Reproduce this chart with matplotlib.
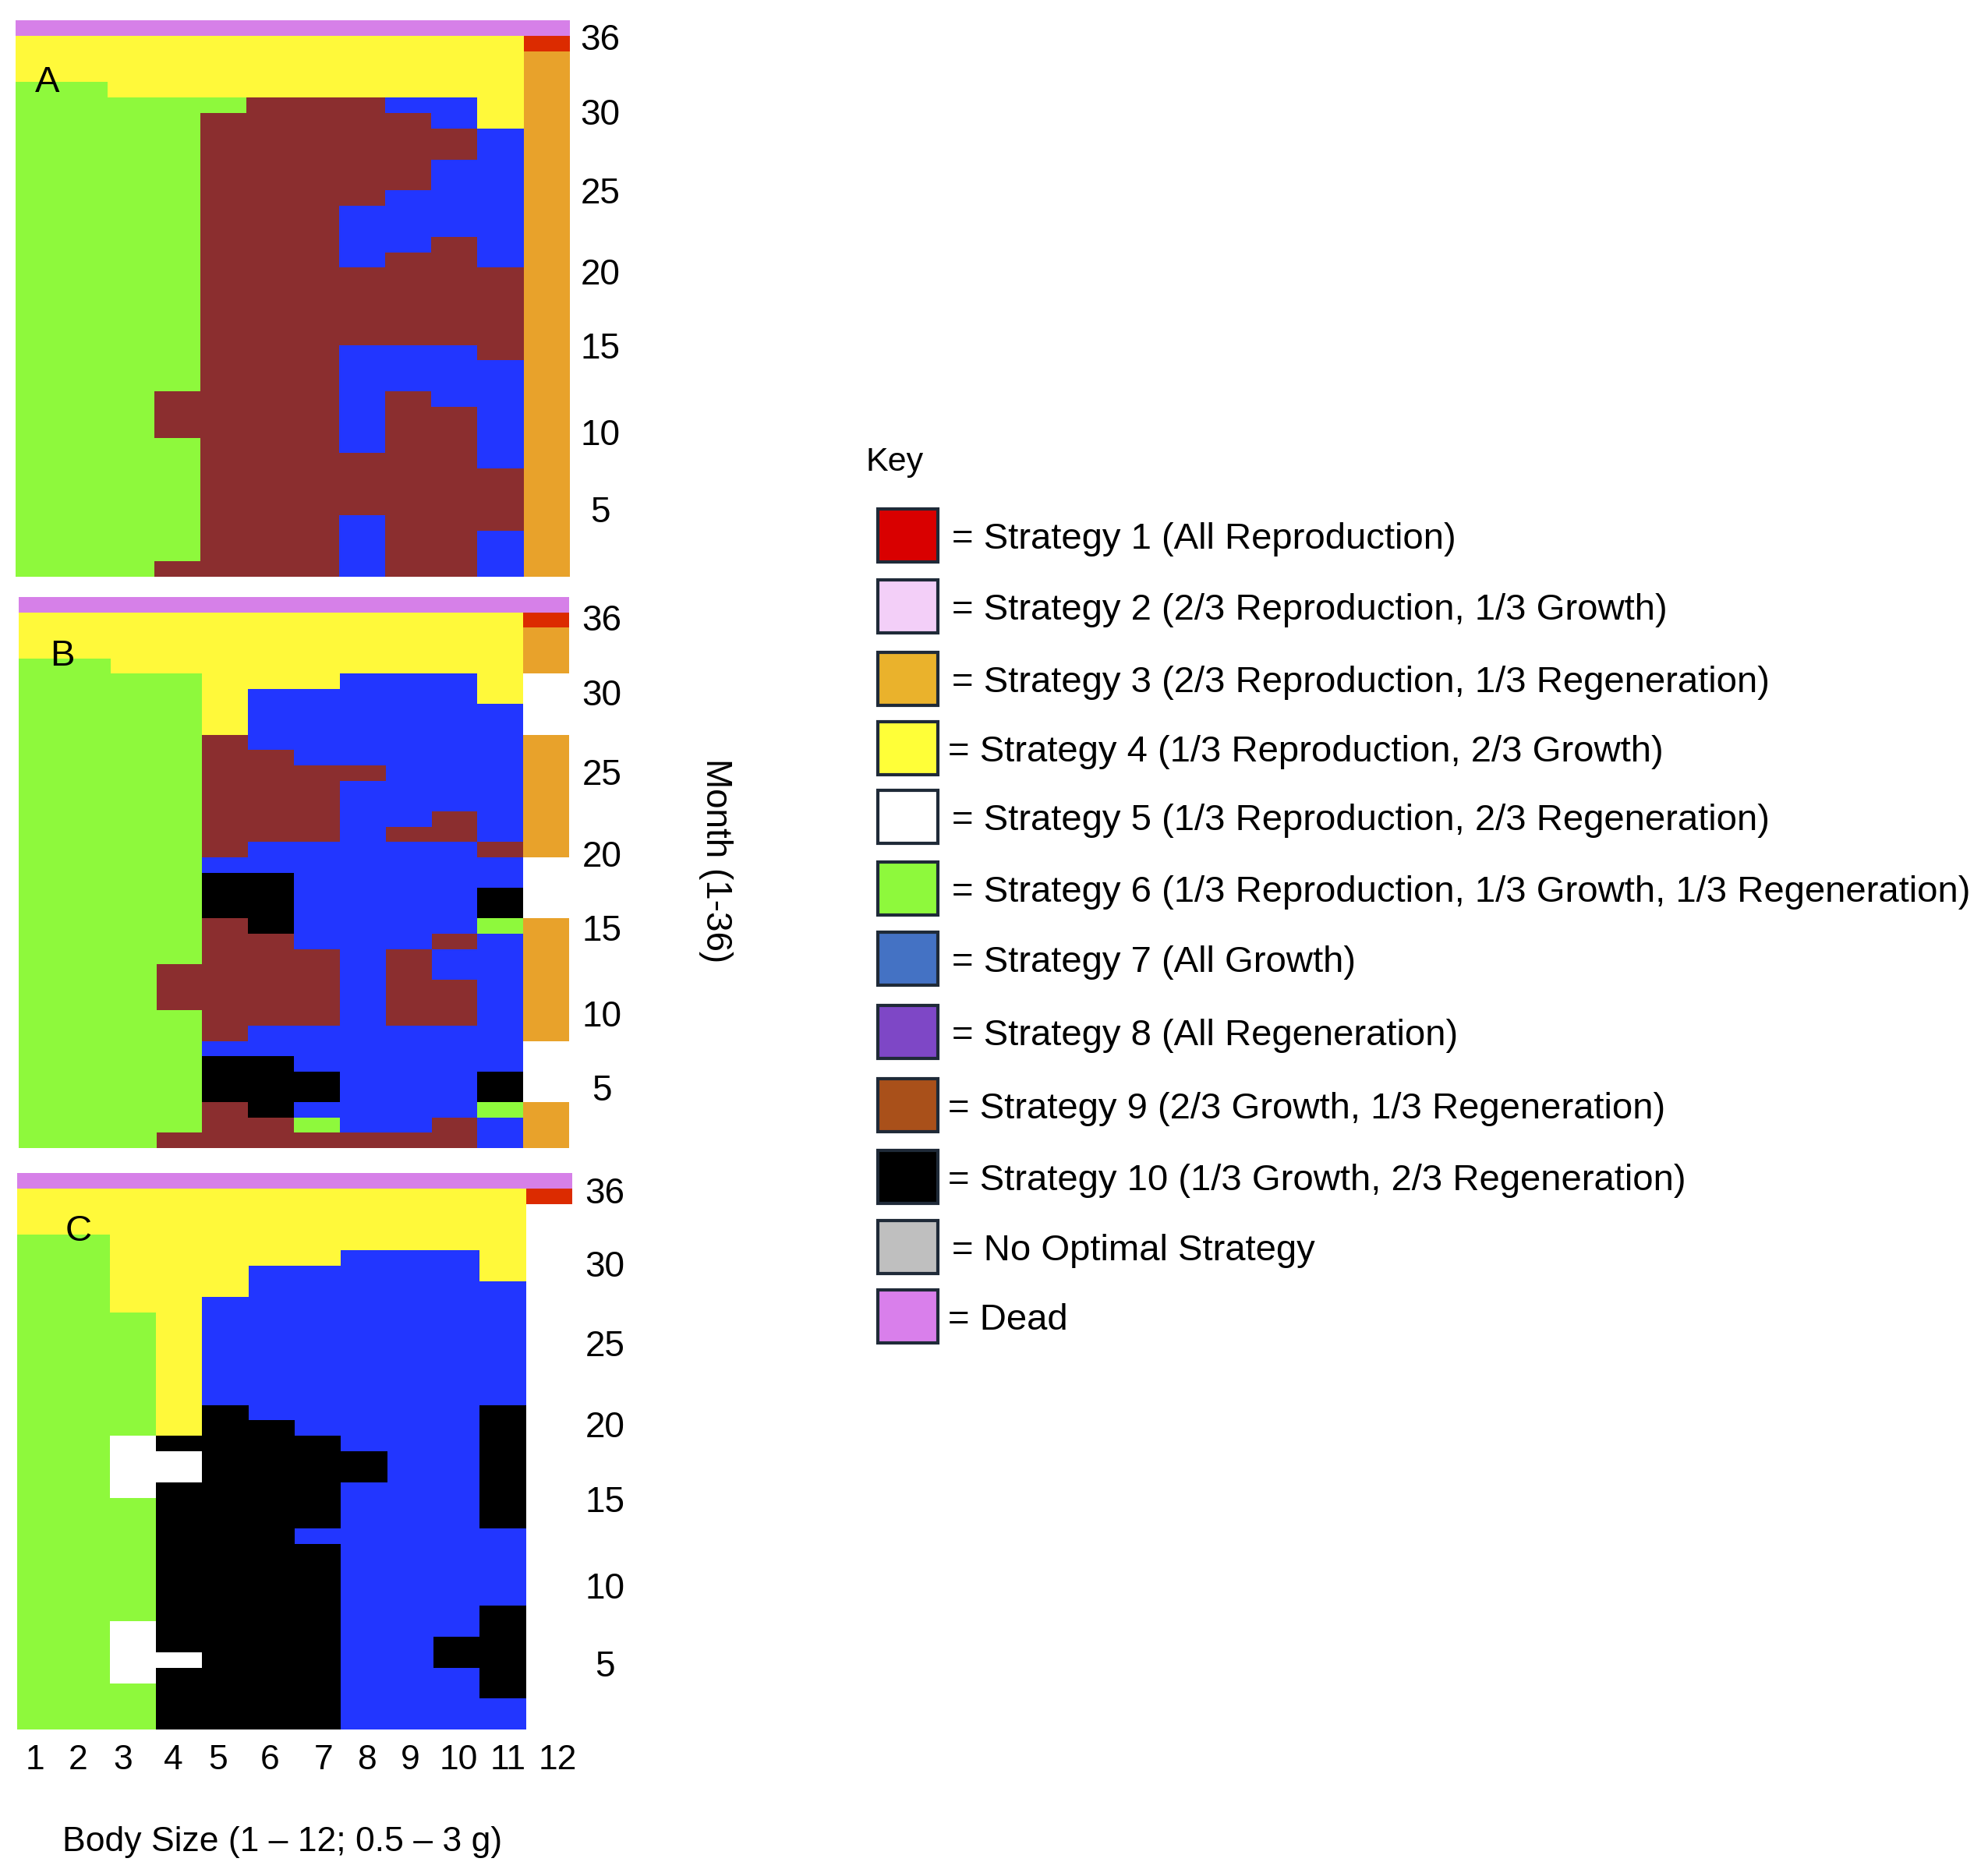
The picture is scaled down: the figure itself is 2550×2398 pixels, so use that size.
import numpy as np
import matplotlib
matplotlib.use("Agg")
import matplotlib.pyplot as plt
from matplotlib.colors import ListedColormap, BoundaryNorm
from matplotlib.patches import Rectangle

# ---------------- data ----------------
# strategy codes per cell: R=1, O=3, Y=4, W=5, G=6, B=7, N=9, K=10, P=12 (Dead)
code_to_strategy = {'R': 1, 'O': 3, 'Y': 4, 'W': 5, 'G': 6, 'B': 7, 'N': 9, 'K': 10, 'P': 12}

# rows listed from month 36 (top) down to month 1; columns = body size 1..12
panel_A = [
    "PPPPPPPPPPPP", "YYYYYYYYYYYR", "YYYYYYYYYYYO", "YYYYYYYYYYYO",
    "GGYYYYYYYYYO", "GGGGGNNNBBYO", "GGGGNNNNNBYO", "GGGGNNNNNNBO",
    "GGGGNNNNNNBO", "GGGGNNNNNBBO", "GGGGNNNNNBBO", "GGGGNNNNBBBO",
    "GGGGNNNBBBBO", "GGGGNNNBBBBO", "GGGGNNNBBNBO", "GGGGNNNBNNBO",
    "GGGGNNNNNNNO", "GGGGNNNNNNNO", "GGGGNNNNNNNO", "GGGGNNNNNNNO",
    "GGGGNNNNNNNO", "GGGGNNNBBBNO", "GGGGNNNBBBBO", "GGGGNNNBBBBO",
    "GGGNNNNBNBBO", "GGGNNNNBNNBO", "GGGNNNNBNNBO", "GGGGNNNBNNBO",
    "GGGGNNNNNNBO", "GGGGNNNNNNNO", "GGGGNNNNNNNO", "GGGGNNNNNNNO",
    "GGGGNNNBNNNO", "GGGGNNNBNNBO", "GGGGNNNBNNBO", "GGGNNNNBNNBO",
]
panel_B = [
    "PPPPPPPPPPPP", "YYYYYYYYYYYR", "YYYYYYYYYYYO", "YYYYYYYYYYYO",
    "GGYYYYYYYYYO", "GGGGYYYBBBYW", "GGGGYBBBBBYW", "GGGGYBBBBBBW",
    "GGGGYBBBBBBW", "GGGGNBBBBBBO", "GGGGNNBBBBBO", "GGGGNNNNBBBO",
    "GGGGNNNBBBBO", "GGGGNNNBBBBO", "GGGGNNNBBNBO", "GGGGNNNBNNBO",
    "GGGGNBBBBBNO", "GGGGBBBBBBBW", "GGGGKKBBBBBW", "GGGGKKBBBBKW",
    "GGGGKKBBBBKW", "GGGGNKBBBBGO", "GGGGNNBBBNBO", "GGGGNNNBNBBO",
    "GGGNNNNBNBBO", "GGGNNNNBNNBO", "GGGNNNNBNNBO", "GGGGNNNBNNBO",
    "GGGGNBBBBBBO", "GGGGBBBBBBBW", "GGGGKKBBBBBW", "GGGGKKKBBBKW",
    "GGGGKKKBBBKW", "GGGGNKBBBBGO", "GGGGNNGBBNBO", "GGGNNNNNNNBO",
]
panel_C = [
    "PPPPPPPPPPPP", "YYYYYYYYYYYR", "YYYYYYYYYYYW", "YYYYYYYYYYYW",
    "GGYYYYYYYYYW", "GGYYYYYBBBYW", "GGYYYBBBBBYW", "GGYYYBBBBBBW",
    "GGYYBBBBBBBW", "GGGYBBBBBBBW", "GGGYBBBBBBBW", "GGGYBBBBBBBW",
    "GGGYBBBBBBBW", "GGGYBBBBBBBW", "GGGYBBBBBBBW", "GGGYKBBBBBKW",
    "GGGYKKBBBBKW", "GGWKKKKBBBKW", "GGWWKKKKBBKW", "GGWWKKKKBBKW",
    "GGWKKKKBBBKW", "GGGKKKKBBBKW", "GGGKKKKBBBKW", "GGGKKKBBBBBW",
    "GGGKKKKBBBBW", "GGGKKKKBBBBW", "GGGKKKKBBBBW", "GGGKKKKBBBBW",
    "GGGKKKKBBBKW", "GGWKKKKBBBKW", "GGWKKKKBBKKW", "GGWWKKKBBKKW",
    "GGWKKKKBBBKW", "GGGKKKKBBBKW", "GGGKKKKBBBBW", "GGGKKKKBBBBW",
]
panel_letters = ["A", "B", "C"]

body_size_labels = ["1", "2", "3", "4", "5", "6", "7", "8", "9", "10", "11", "12"]
month_labels = ["36", "30", "25", "20", "15", "10", "5"]

# heat-map colours for strategies 1..12 (11 = no optimal, 12 = dead)
heat_colors = ["#DC2B00", "#F3CFF8", "#E8A22B", "#FFF93A", "#FFFFFF", "#8EF93C",
               "#2236FF", "#7E47C6", "#8B2E2F", "#000000", "#BFBFBF", "#D680E8"]

key_labels = [
    "= Strategy 1 (All Reproduction)",
    "= Strategy 2 (2/3 Reproduction, 1/3 Growth)",
    "= Strategy 3 (2/3 Reproduction, 1/3 Regeneration)",
    "= Strategy 4 (1/3 Reproduction, 2/3 Growth)",
    "= Strategy 5 (1/3 Reproduction, 2/3 Regeneration)",
    "= Strategy 6 (1/3 Reproduction, 1/3 Growth, 1/3 Regeneration)",
    "= Strategy 7 (All Growth)",
    "= Strategy 8 (All Regeneration)",
    "= Strategy 9 (2/3 Growth, 1/3 Regeneration)",
    "= Strategy 10 (1/3 Growth, 2/3 Regeneration)",
    "= No Optimal Strategy",
    "= Dead",
]
key_colors = ["#D90000", "#F3CFF8", "#EAB22C", "#FFFF38", "#FFFFFF", "#8EF93C",
              "#4472C4", "#7E47C6", "#A9501A", "#000000", "#BFBFBF", "#D97FEB"]

# ---------------- layout (pixels) ----------------
W, H = 2550, 2398
FONT = "Liberation Sans"
plt.rcParams["font.family"] = [FONT, "DejaVu Sans"]

fig = plt.figure(figsize=(W / 100, H / 100), dpi=100)

panel_boxes = [(20, 731, 26, 740), (24, 730, 766, 1473), (22, 734, 1505, 2219)]
month_tick_pos = [
    [34.96, 30.08, 25.0, 19.75, 14.96, 9.4, 4.37],
    [34.69, 29.77, 24.6, 19.24, 14.4, 8.8, 3.98],
    [34.9, 30.15, 25.0, 19.76, 14.9, 9.35, 4.3],
]
month_label_center_x = [770, 772, 776]
body_tick_pos = [0.88, 1.81, 2.78, 3.87, 4.85, 5.96, 7.13, 8.06, 9.0, 10.05, 11.12, 12.19]
letter_pos = [(61, 106), (80, 842), (101, 1580)]

cmap = ListedColormap(heat_colors)
norm = BoundaryNorm(np.arange(0.5, 13.5, 1.0), cmap.N)

x_edges = np.arange(0.5, 13.0, 1.0)
y_edges = np.arange(0, 37, 1.0)

panels = [panel_A, panel_B, panel_C]
for i, rows in enumerate(panels):
    x0, x1, y0, y1 = panel_boxes[i]
    ax = fig.add_axes([x0 / W, 1 - y1 / H, (x1 - x0) / W, (y1 - y0) / H])
    grid = np.array([[code_to_strategy[c] for c in r] for r in rows[::-1]])
    ax.pcolormesh(x_edges, y_edges, grid, cmap=cmap, norm=norm,
                  edgecolors="none", antialiased=False, shading="flat")
    ax.set_xlim(0.5, 12.5)
    ax.set_ylim(0, 36)
    for s in ax.spines.values():
        s.set_visible(False)
    # right-hand month ticks
    ax.yaxis.tick_right()
    pad_pt = (month_label_center_x[i] - x1) * 0.72
    ax.set_yticks(month_tick_pos[i], month_labels)
    ax.tick_params(axis="y", length=0, pad=pad_pt, labelsize=33)
    for t in ax.get_yticklabels():
        t.set_horizontalalignment("center")
        t.set_fontfamily(FONT)
    if i == 2:
        ax.set_xticks(body_tick_pos, body_size_labels)
        ax.tick_params(axis="x", length=0, pad=(2238 - y1) * 0.72, labelsize=32)
        for t in ax.get_xticklabels():
            t.set_fontfamily(FONT)
    else:
        ax.set_xticks([])

# overlay for annotations / key
ov = fig.add_axes([0, 0, 1, 1])
ov.set_xlim(0, W)
ov.set_ylim(H, 0)
ov.axis("off")
ov.patch.set_alpha(0)

for (lx, ly), letter in zip(letter_pos, panel_letters):
    ov.text(lx, ly, letter, fontsize=34, ha="center", va="center", family=FONT)

ov.text(918, 1104, "Month (1-36)", fontsize=33, rotation=270,
        ha="center", va="center", family=FONT)
ov.text(362, 2375, "Body Size (1 \u2013 12; 0.5 \u2013 3 g)", fontsize=32,
        ha="center", va="baseline", family=FONT)

ov.text(1110, 593, "Key", fontsize=31, ha="left", va="center", family=FONT)

key_centers = [687, 778, 871, 960, 1048, 1140, 1230, 1324, 1418, 1510, 1600, 1689]
key_text_x = [1221, 1221, 1221, 1216, 1221, 1221, 1221, 1221, 1216, 1216, 1221, 1216]
box_w, box_h = 77, 68
for cy, col, lab, tx in zip(key_centers, key_colors, key_labels, key_text_x):
    ov.add_patch(Rectangle((1126, cy - box_h / 2), box_w, box_h, facecolor=col,
                           edgecolor="#1F2A38", linewidth=3.0))
    ov.text(tx, cy + 17, lab, fontsize=34, ha="left", va="baseline", family=FONT)

fig.savefig("out.png", dpi=100)
